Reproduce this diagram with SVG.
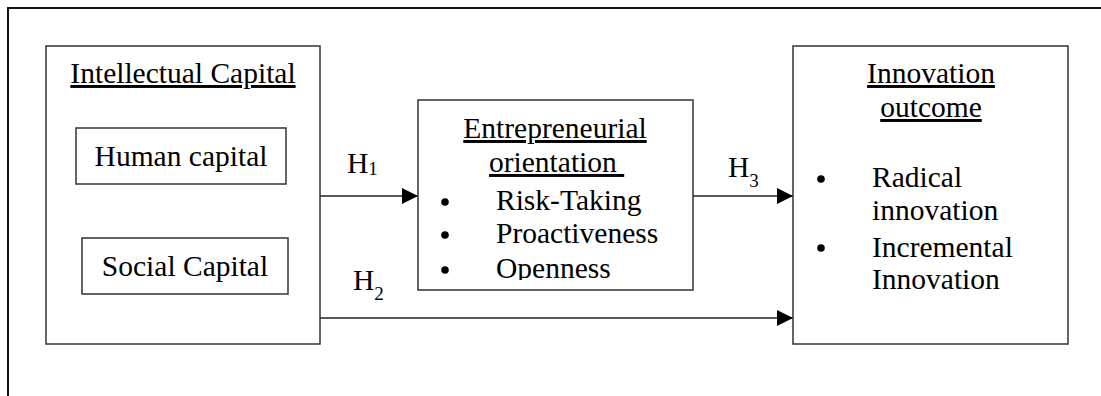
<svg xmlns="http://www.w3.org/2000/svg" width="1101" height="396" viewBox="0 0 1101 396">
  <style>
    text { font-family: "Liberation Serif", "Times New Roman", serif; font-size: 29.5px; fill: #000; }
    .box { fill: #fff; stroke: #333; stroke-width: 1.5; }
    .frame { fill: none; stroke: #111; stroke-width: 2; }
    .link { stroke: #222; stroke-width: 1.5; fill: none; marker-end: url(#arrow); }
    .ul { text-decoration: underline; }
    .sub { font-size: 19px; }
  </style>
  <defs>
    <marker id="arrow" markerUnits="userSpaceOnUse" markerWidth="16" markerHeight="16" refX="16" refY="8" orient="auto">
      <path d="M0,0 L16,8 L0,16 Z" fill="#000"/>
    </marker>
    <clipPath id="eoClip">
      <rect x="419" y="101" width="273" height="179"/>
    </clipPath>
  </defs>
  <rect width="1101" height="396" fill="#fff"/>

  <!-- outer frame (top and left edges visible) -->
  <path class="frame" d="M8,396 V8 H1101"/>

  <!-- connectors -->
  <g id="connectors">
    <line class="link" x1="320" y1="196" x2="418" y2="196"/>
    <line class="link" x1="693" y1="196" x2="793" y2="196"/>
    <line class="link" x1="320" y1="318" x2="793" y2="318"/>
    <text x="347" y="173">H<tspan class="sub" dy="2">1</tspan></text>
    <text x="728" y="177">H<tspan class="sub" dy="10">3</tspan></text>
    <text x="353" y="290">H<tspan class="sub" dy="10">2</tspan></text>
  </g>

  <!-- Intellectual Capital -->
  <g id="intellectual-capital">
    <rect class="box" x="46" y="46" width="274" height="298"/>
    <text class="ul" x="183" y="83" text-anchor="middle">Intellectual Capital</text>
    <g id="human-capital">
      <rect class="box" x="76" y="128" width="210" height="56"/>
      <text x="181" y="166" text-anchor="middle">Human capital</text>
    </g>
    <g id="social-capital">
      <rect class="box" x="82" y="238" width="206" height="56"/>
      <text x="185" y="276" text-anchor="middle">Social Capital</text>
    </g>
  </g>

  <!-- Entrepreneurial orientation -->
  <g id="entrepreneurial-orientation">
    <rect class="box" x="418" y="100" width="275" height="190"/>
    <g clip-path="url(#eoClip)">
      <text class="ul" x="555" y="138" text-anchor="middle">Entrepreneurial</text>
      <text class="ul" x="489" y="172" xml:space="preserve">orientation </text>
      <circle cx="445" cy="202" r="3.8"/>
      <text x="496" y="210">Risk-Taking</text>
      <circle cx="445" cy="235" r="3.8"/>
      <text x="496" y="243">Proactiveness</text>
      <circle cx="445" cy="270" r="3.8"/>
      <text x="496" y="278">Openness</text>
    </g>
  </g>

  <!-- Innovation outcome -->
  <g id="innovation-outcome">
    <rect class="box" x="793" y="46" width="275" height="298"/>
    <text class="ul" x="931" y="83" text-anchor="middle">Innovation</text>
    <text class="ul" x="931" y="117" text-anchor="middle">outcome</text>
    <circle cx="821" cy="179" r="3.8"/>
    <text x="872" y="187">Radical</text>
    <text x="872" y="220">innovation</text>
    <circle cx="821" cy="248" r="3.8"/>
    <text x="872" y="257">Incremental</text>
    <text x="872" y="289">Innovation</text>
  </g>
</svg>
